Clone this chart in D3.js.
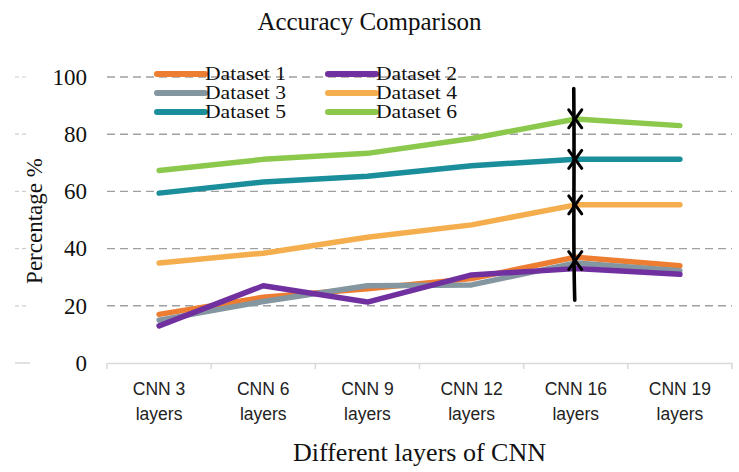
<!DOCTYPE html>
<html>
<head>
<meta charset="utf-8">
<script src="https://cdn.jsdelivr.net/npm/d3@7"></script>
<style>
  html, body { margin: 0; padding: 0; background: #fff; }
  svg { display: block; }
</style>
</head>
<body>
<svg id="chart" width="739" height="472"></svg>
<script>
// Categories along the x axis
const categories = ["CNN 3", "CNN 6", "CNN 9", "CNN 12", "CNN 16", "CNN 19"];
const categorySub = "layers";

// Accuracy (%) per dataset
const dataset1 = [17, 23, 26, 29.5, 37, 34];
const dataset2 = [13, 27, 21.3, 30.8, 33, 31];
const dataset3 = [15, 21.5, 27, 27.3, 35, 32.3];
const dataset4 = [35, 38.4, 44, 48.3, 55.3, 55.3];
const dataset5 = [59.4, 63.3, 65.3, 69, 71.2, 71.2];
const dataset6 = [67.3, 71.2, 73.3, 78.5, 85.3, 83];

const seriesNames = ["Dataset 1", "Dataset 2", "Dataset 3", "Dataset 4", "Dataset 5", "Dataset 6"];
const seriesValues = [dataset1, dataset2, dataset3, dataset4, dataset5, dataset6];
const seriesColors = ["#ED7D31", "#7030A0", "#8496A0", "#F5AE4E", "#1A8E9A", "#8CC84B"];

const yTicks = [0, 20, 40, 60, 80, 100];

// Hand-drawn marker at CNN 16: vertical stroke and crosses
const markCategory = "CNN 16";
const markRange = [96, 22];
const markValues = [85.4, 71.2, 55.3, 35.8];

const svg = d3.select("#chart");
const margin = { left: 107, right: 7, top: 77, bottom: 109 };
const W = 739, H = 472;

const x = d3.scaleBand()
  .domain(categories)
  .range([margin.left, W - margin.right])
  .padding(0);

const y = d3.scaleLinear()
  .domain([0, 100])
  .range([H - margin.bottom, margin.top]);

const serif = "'Liberation Serif', 'Times New Roman', serif";
const sans = "'Liberation Sans', Arial, sans-serif";

// Title
svg.append("text")
  .attr("x", W / 2).attr("y", 30)
  .attr("text-anchor", "middle")
  .attr("font-family", serif).attr("font-size", 25)
  .attr("fill", "#111")
  .text("Accuracy Comparison");

// Gridlines (dashed)
svg.append("g")
  .selectAll("line")
  .data(yTicks.filter(d => d > 0))
  .join("line")
  .attr("x1", margin.left).attr("x2", W - margin.right)
  .attr("y1", d => y(d)).attr("y2", d => y(d))
  .attr("stroke", "#a0a0a0").attr("stroke-width", 1.4)
  .attr("stroke-dasharray", "8,5");

// Faint short marks at the far left
svg.append("g")
  .selectAll("line")
  .data(yTicks)
  .join("line")
  .attr("x1", 15).attr("x2", d => d === 0 ? 30 : 28)
  .attr("y1", d => y(d)).attr("y2", d => y(d))
  .attr("stroke", "#cfcfcf").attr("stroke-width", 1.2)
  .attr("stroke-dasharray", d => d === 0 ? null : "4,3");

// Y axis labels
const yAxis = d3.axisLeft(y).tickValues(yTicks).tickSize(0).tickPadding(20);
const yg = svg.append("g")
  .attr("transform", `translate(${margin.left},0)`)
  .call(yAxis);
yg.select(".domain").remove();
yg.selectAll("text")
  .attr("font-family", serif).attr("font-size", 23).attr("fill", "#111");

// X axis
const xAxis = d3.axisBottom(x).tickSize(0).tickFormat(() => "");
const xg = svg.append("g")
  .attr("transform", `translate(0,${y(0)})`)
  .call(xAxis);
xg.select(".domain").attr("stroke", "#d9d9d9").attr("stroke-width", 1.5);
// Category boundary ticks
const bounds = categories.map(c => x(c)).concat([x(categories[categories.length - 1]) + x.bandwidth()]);
xg.selectAll("line.bound")
  .data(bounds)
  .join("line")
  .attr("class", "bound")
  .attr("x1", d => d).attr("x2", d => d)
  .attr("y1", 0).attr("y2", 6)
  .attr("stroke", "#d9d9d9").attr("stroke-width", 1.5);

const labels = svg.append("g")
  .selectAll("text")
  .data(categories)
  .join("text")
  .attr("text-anchor", "middle")
  .attr("font-family", sans).attr("font-size", 17.5)
  .attr("fill", "#222");
labels.append("tspan")
  .attr("x", d => x(d) + x.bandwidth() / 2)
  .attr("y", y(0) + 32)
  .text(d => d);
labels.append("tspan")
  .attr("x", d => x(d) + x.bandwidth() / 2)
  .attr("y", y(0) + 57)
  .text(categorySub);

// Axis titles
svg.append("text")
  .attr("x", (margin.left + W - margin.right) / 2)
  .attr("y", 461)
  .attr("text-anchor", "middle")
  .attr("font-family", serif).attr("font-size", 26)
  .attr("fill", "#111")
  .text("Different layers of CNN");

svg.append("text")
  .attr("transform", `translate(42,221) rotate(-90)`)
  .attr("text-anchor", "middle")
  .attr("font-family", serif).attr("font-size", 23)
  .attr("fill", "#111")
  .text("Percentage %");

// Lines
const line = d3.line()
  .x((d, i) => x(categories[i]) + x.bandwidth() / 2)
  .y(d => y(d));

const drawOrder = [0, 2, 1, 3, 4, 5];
svg.append("g")
  .selectAll("path")
  .data(drawOrder)
  .join("path")
  .attr("d", i => line(seriesValues[i]))
  .attr("fill", "none")
  .attr("stroke", i => seriesColors[i])
  .attr("stroke-width", 5.5)
  .attr("stroke-linejoin", "round")
  .attr("stroke-linecap", "round");

// Legend
const legendCols = [157, 328];
const legendRows = [74, 93, 112];
const legend = svg.append("g");
seriesNames.forEach((name, i) => {
  const cx = legendCols[i % 2];
  const cy = legendRows[Math.floor(i / 2)];
  legend.append("line")
    .attr("x1", cx).attr("x2", cx + 48)
    .attr("y1", cy).attr("y2", cy)
    .attr("stroke", seriesColors[i]).attr("stroke-width", 6)
    .attr("stroke-linecap", "round");
  legend.append("text")
    .attr("x", cx + 48).attr("y", cy + 6)
    .attr("font-family", serif).attr("font-size", 18)
    .attr("textLength", 81)
    .attr("lengthAdjust", "spacingAndGlyphs")
    .attr("fill", "#111")
    .text(name);
});

// Hand-drawn marker
const mx = x(markCategory) + x.bandwidth() / 2;
const mark = svg.append("g")
  .attr("stroke", "#000").attr("stroke-linecap", "round").attr("fill", "none");
mark.append("path")
  .attr("d", `M${mx - 2},${y(markRange[0])} C${mx - 1},${y(60)} ${mx - 3},${y(45)} ${mx - 1},${y(markRange[1])}`)
  .attr("stroke-width", 3.6);
mark.selectAll("path.cross")
  .data(markValues)
  .join("path")
  .attr("class", "cross")
  .attr("d", v => {
    const cy = y(v);
    return `M${mx - 7},${cy - 9} L${mx + 6},${cy + 9} M${mx + 6},${cy - 9} L${mx - 7},${cy + 9}`;
  })
  .attr("stroke-width", 3);
</script>
</body>
</html>
